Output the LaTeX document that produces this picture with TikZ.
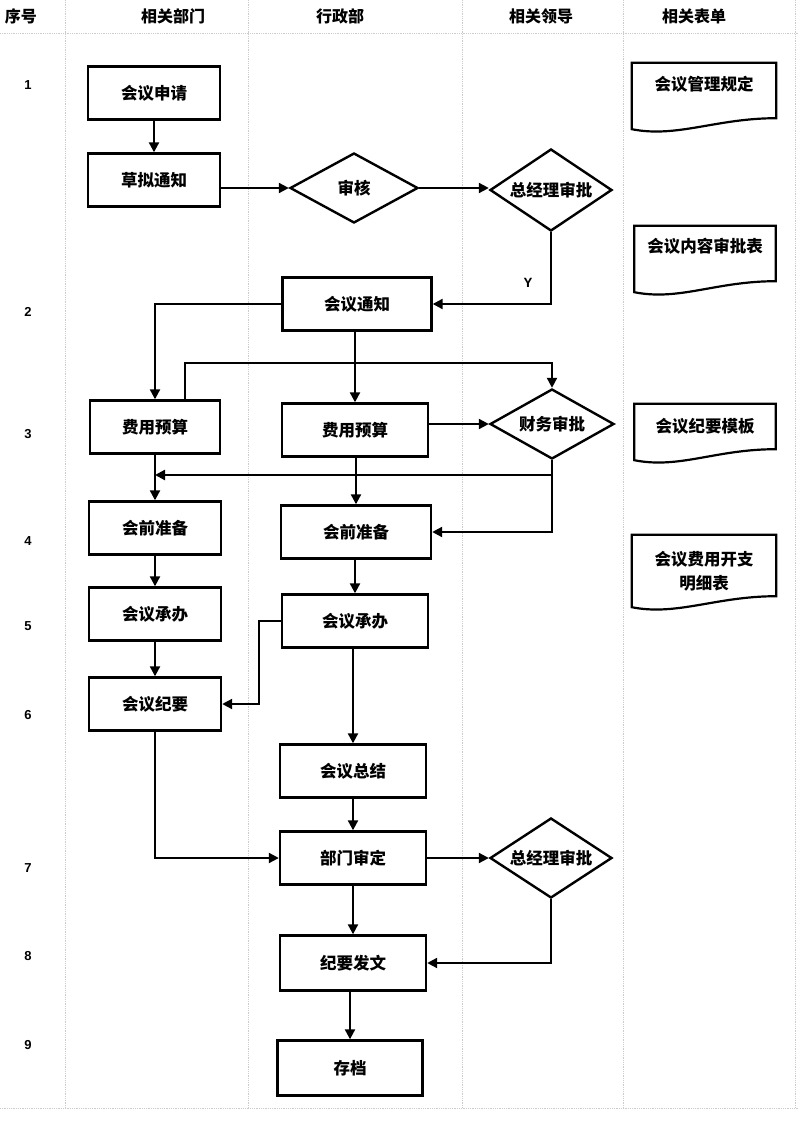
\documentclass[tikz,border=0pt]{standalone}
\usepackage{fontspec}
\setmainfont{Noto Sans CJK SC}
\newfontfamily\numfont{Liberation Sans}
\newfontfamily\yfont{Liberation Mono}
\usetikzlibrary{arrows.meta,shapes.geometric,calc}
\begin{document}
\begin{tikzpicture}[x=1pt,y=-1pt,
  grid/.style={gray!40, line width=0.8pt, densely dotted},
  box/.style={draw, line width=2.4pt, minimum height=53pt, font=\fontsize{16.5}{19}\selectfont\bfseries, inner sep=2pt},
  boxL/.style={box, minimum width=132pt},
  boxM/.style={box, minimum width=148pt},
  dia/.style={draw, diamond, line width=2.4pt, inner sep=0pt, shape aspect=1.5, font=\fontsize{16.5}{19}\selectfont\bfseries},
  arr/.style={line width=2.2pt, -{Triangle[length=10pt,width=10pt]}},
  doc/.style={line width=2.2pt},
  docf/.style={inner sep=0pt, minimum width=144pt},
  doctext/.style={font=\fontsize{16.5}{24}\selectfont\bfseries, align=center, inner sep=1pt},
  hdr/.style={font=\fontsize{16}{18}\selectfont\bfseries},
  num/.style={font=\numfont\bfseries\fontsize{13}{15}\selectfont}
]
\useasboundingbox (0,0) rectangle (798,1123);
\fill[white] (0,0) rectangle (798,1123);
% grid
\foreach \gx in {65,248,462,623,795} \draw[grid] (\gx,0) -- (\gx,1108);
\draw[grid] (0,33) -- (798,33);
\draw[grid] (0,1108) -- (798,1108);
% headers
\node[hdr] (h0) at (21,16) {序号};
\node[hdr] (h1) at (173,16) {相关部门};
\node[hdr] (h2) at (340,16) {行政部};
\node[hdr] (h3) at (541,16) {相关领导};
\node[hdr] (h4) at (694,16) {相关表单};
% row numbers
\node[num] (r1) at (28,85) {1};
\node[num] (r2) at (28,312) {2};
\node[num] (r3) at (28,434) {3};
\node[num] (r4) at (28,541) {4};
\node[num] (r5) at (28,626) {5};
\node[num] (r6) at (28,715) {6};
\node[num] (r7) at (28,868) {7};
\node[num] (r8) at (28,956) {8};
\node[num] (r9) at (28,1045) {9};
% process nodes
\node[boxL] (sq) at (154,93) {会议申请};
\node[boxL] (ng) at (154,180) {草拟通知};
\node[dia, minimum width=128pt, minimum height=70pt] (sh) at (354,188) {审核};
\node[dia, minimum width=122pt, minimum height=82pt] (zj1) at (551,190) {总经理审批};
\node[boxM, minimum width=149pt] (tz) at (357,304) {会议通知};
\node[boxL, minimum width=130pt] (ysL) at (155,427) {费用预算};
\node[boxM, minimum width=146pt] (ysM) at (355,430) {费用预算};
\node[dia, minimum width=124pt, minimum height=70pt] (cw) at (552,424) {财务审批};
\node[boxL] (zbL) at (155,528) {会前准备};
\node[boxM, minimum width=150pt] (zbM) at (356,532) {会前准备};
\node[boxL] (cbL) at (155,614) {会议承办};
\node[boxM, minimum width=146pt] (cbM) at (355,621) {会议承办};
\node[boxL] (jy) at (155,704) {会议纪要};
\node[boxM, minimum width=146pt] (zj) at (353,771) {会议总结};
\node[boxM, minimum width=146pt] (sd) at (353,858) {部门审定};
\node[dia, minimum width=122pt, minimum height=80pt] (zj2) at (551,858) {总经理审批};
\node[boxM, minimum width=146pt, minimum height=55pt] (fw) at (353,963) {纪要发文};
\node[boxM, minimum width=145pt, minimum height=55pt] (cd) at (350,1068) {存档};
\node[font=\yfont\bfseries\fontsize{14}{16}\selectfont] (ylab) at (528,283) {Y};
% connectors
\draw[arr] (sq) -- (ng);
\draw[arr] (ng.east |- sh.west) -- (sh.west);
\draw[arr] (sh.east) -- (sh.east -| zj1.west);
\draw[arr] (zj1.south) |- (tz.east);
\draw[arr] (tz.west) -| (ysL.north);
\draw[arr] (tz.south -| ysM.north) -- (ysM.north);
\coordinate (b1) at (0,363);
\draw[arr] ([xshift=30pt]ysL.north) |- (cw.north |- b1) -- (cw.north);
\draw[arr] (ysM.east |- cw.west) -- (cw.west);
\coordinate (j1) at (cw.south |- 0,475);
\draw[arr] (cw.south) |- (zbM.east);
\draw[arr] (j1) -- (j1 -| ysL.south);
\draw[arr] (ysL) -- (zbL);
\draw[arr] (ysM.south -| zbM.north) -- (zbM.north);
\draw[arr] (zbL) -- (cbL);
\draw[arr] (zbM.south -| cbM.north) -- (cbM.north);
\draw[arr] (cbL) -- (jy);
\draw[arr] (cbM.west) -- ++(-22,0) |- (jy.east);
\draw[arr] (cbM.south -| zj.north) -- (zj.north);
\draw[arr] (zj) -- (sd);
\draw[arr] (jy.south) |- (sd.west);
\draw[arr] (sd) -- (zj2);
\draw[arr] (zj2.south) |- (fw.east);
\draw[arr] (sd) -- (fw);
\draw[arr] (fw.south -| cd.north) -- (cd.north);
% documents
\node[docf, minimum height=66pt] (d1) at (704,96) {};
\node[doctext] (d1t) at (704,84) {会议管理规定};
\node[docf, minimum width=141pt, minimum height=66pt] (d2) at (705,259) {};
\node[doctext] (d2t) at (705,246) {会议内容审批表};
\node[docf, minimum width=141pt, minimum height=56pt] (d3) at (705,432) {};
\node[doctext] (d3t) at (705,426) {会议纪要模板};
\node[docf, minimum height=72pt] (d4) at (704,571) {};
\node[doctext] (d4t) at (704,571) {会议费用开支\\明细表};
\foreach \d in {d1,d2,d3,d4}{
  \draw[doc] (\d.north west) -- (\d.north east) -- ([yshift=11pt]\d.south east)
    .. controls +(-60pt,0pt) and +(45pt,-9pt) .. (\d.south west) -- cycle;
}
\end{tikzpicture}
\end{document}
